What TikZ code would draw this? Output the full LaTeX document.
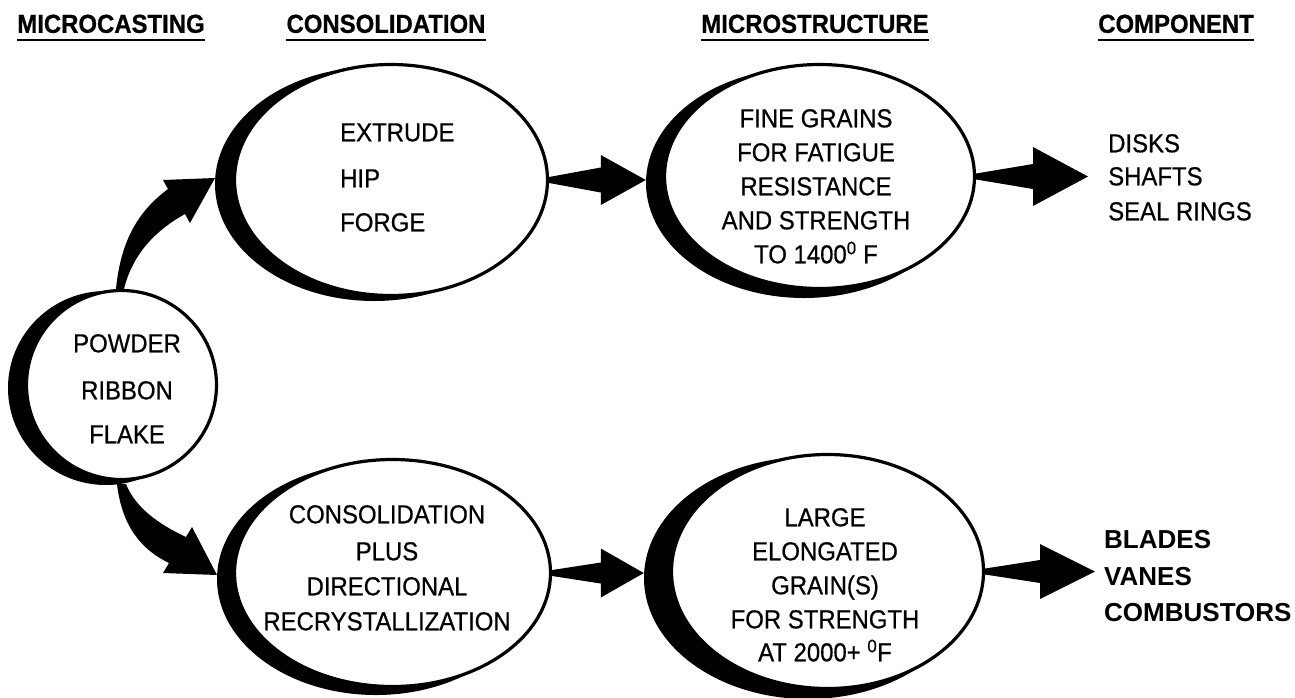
\documentclass[tikz,border=0pt]{standalone}
\usepackage{fontspec}
\setmainfont{Liberation Sans}[FakeStretch=0.92, FakeBold=0.6]
\newfontfamily\wideboldfont{Liberation Sans}[FakeStretch=1.0]
\usetikzlibrary{shapes.geometric,calc}
\newcommand\blockarrow[5]{%
  \fill let \p1=(#1), \p2=(#2) in
    (\x1,\y1+3pt) -- (\x2-#3,\y1+#5) -- (\x2-#3,\y1+#4) -- (\x2,\y1)
    -- (\x2-#3,\y1-#4) -- (\x2-#3,\y1-#5) -- (\x1,\y1-3pt) -- cycle;}
\begin{document}
\begin{tikzpicture}[x=1pt,y=-1pt,
  txt/.style={inner sep=0pt, text height=18.6pt, text depth=0pt, font=\fontsize{26}{30}\selectfont},
  hdr/.style={txt, font=\fontsize{26}{30}\selectfont\bfseries},
  brt/.style={txt, anchor=west, font=\fontsize{26}{30}\selectfont\wideboldfont\bfseries},
  lt/.style={txt, anchor=west},
  shade/.style={ellipse, fill=black, inner sep=0pt},
  bubble/.style={ellipse, fill=white, draw=black, line width=3.2pt, inner sep=0pt},
  uline/.style={line width=2.5pt}]
\useasboundingbox (0,0) rectangle (1295,697);

% headers
\node[hdr] (h1) at (111,23.5) {MICROCASTING};
\node[hdr] (h2) at (386,23.5) {CONSOLIDATION};
\node[hdr] (h3) at (815,23.5) {MICROSTRUCTURE};
\node[hdr] (h4) at (1176,23.5) {COMPONENT};
\foreach \h in {h1,h2,h3,h4}
  \draw[uline] ([yshift=-7pt]\h.south west) -- ([yshift=-7pt]\h.south east);

% bubbles with crescent shadows
\node[shade, minimum width=196pt, minimum height=194pt] (pwb) at (106,388) {};
\node[bubble, minimum width=190pt, minimum height=189pt] (pw) at (121.5,385) {};
\node[shade, minimum width=318pt, minimum height=234pt] (extb) at (374,184) {};
\node[bubble, minimum width=313pt, minimum height=231pt] (ext) at (391,180) {};
\node[shade, minimum width=316pt, minimum height=230pt] (finb) at (804,183) {};
\node[bubble, minimum width=310pt, minimum height=224pt] (fin) at (819.5,176.5) {};
\node[shade, minimum width=318pt, minimum height=232pt] (conb) at (376,579) {};
\node[bubble, minimum width=316pt, minimum height=227pt] (con) at (392.5,573) {};
\node[shade, minimum width=328pt, minimum height=242pt] (larb) at (808,578) {};
\node[bubble, minimum width=312pt, minimum height=234pt] (lar) at (827.5,571.5) {};

% texts
\node[txt] (p1) at (127,343) {POWDER};
\node[txt] (p2) at (127,390) {RIBBON};
\node[txt] (p3) at (127,434) {FLAKE};

\node[lt] (e1) at (340,132) {EXTRUDE};
\node[lt] (e2) at (340,178) {HIP};
\node[lt] (e3) at (340,222) {FORGE};

\node[txt] (f1) at (816,118) {FINE GRAINS};
\node[txt] (f2) at (816,152) {FOR FATIGUE};
\node[txt] (f3) at (816,186) {RESISTANCE};
\node[txt] (f4) at (816,220) {AND STRENGTH};
\node[txt] (f5) at (816,254) {TO 1400\textsuperscript{0} F};

\node[lt] (d1) at (1108,143) {DISKS};
\node[lt] (d2) at (1108,176) {SHAFTS};
\node[lt] (d3) at (1108,211) {SEAL RINGS};

\node[txt] (c1) at (387,514) {CONSOLIDATION};
\node[txt] (c2) at (387,551) {PLUS};
\node[txt] (c3) at (387,586) {DIRECTIONAL};
\node[txt] (c4) at (387,621) {RECRYSTALLIZATION};

\node[txt] (l1) at (825,517) {LARGE};
\node[txt] (l2) at (825,551) {ELONGATED};
\node[txt] (l3) at (825,585) {GRAIN(S)};
\node[txt] (l4) at (825,619) {FOR STRENGTH};
\node[txt] (l5) at (825,652) {AT 2000+ \textsuperscript{0}F};

\node[brt] (b1) at (1104,539) {BLADES};
\node[brt] (b2) at (1104,576) {VANES};
\node[brt] (b3) at (1104,612) {COMBUSTORS};

% free arrow ends
\coordinate (tipD) at (1088,177);
\coordinate (tipB) at (1095,570);

% straight block arrows
\blockarrow{ext.east}{finb.west}{45pt}{25pt}{12.5pt}
\blockarrow{fin.east}{tipD}{55pt}{29.5pt}{12.5pt}
\blockarrow{con.east}{larb.west}{43pt}{24.5pt}{10.5pt}
\blockarrow{lar.east}{tipB}{55pt}{27.5pt}{11.5pt}

% curved block arrows
\fill (116,289) .. controls (121,238) and (140,210) .. (168,189)
  -- (163,180) -- (215,178) -- (190,223) -- (185,214)
  .. controls (158,229) and (133,252) .. (124,289) -- cycle;
\fill (117,484) .. controls (122,527) and (142,550) .. (169,563)
  -- (163,573) -- (217,575) -- (192,527) -- (186,537)
  .. controls (158,524) and (135,507) .. (126,484) -- cycle;
\end{tikzpicture}
\end{document}
